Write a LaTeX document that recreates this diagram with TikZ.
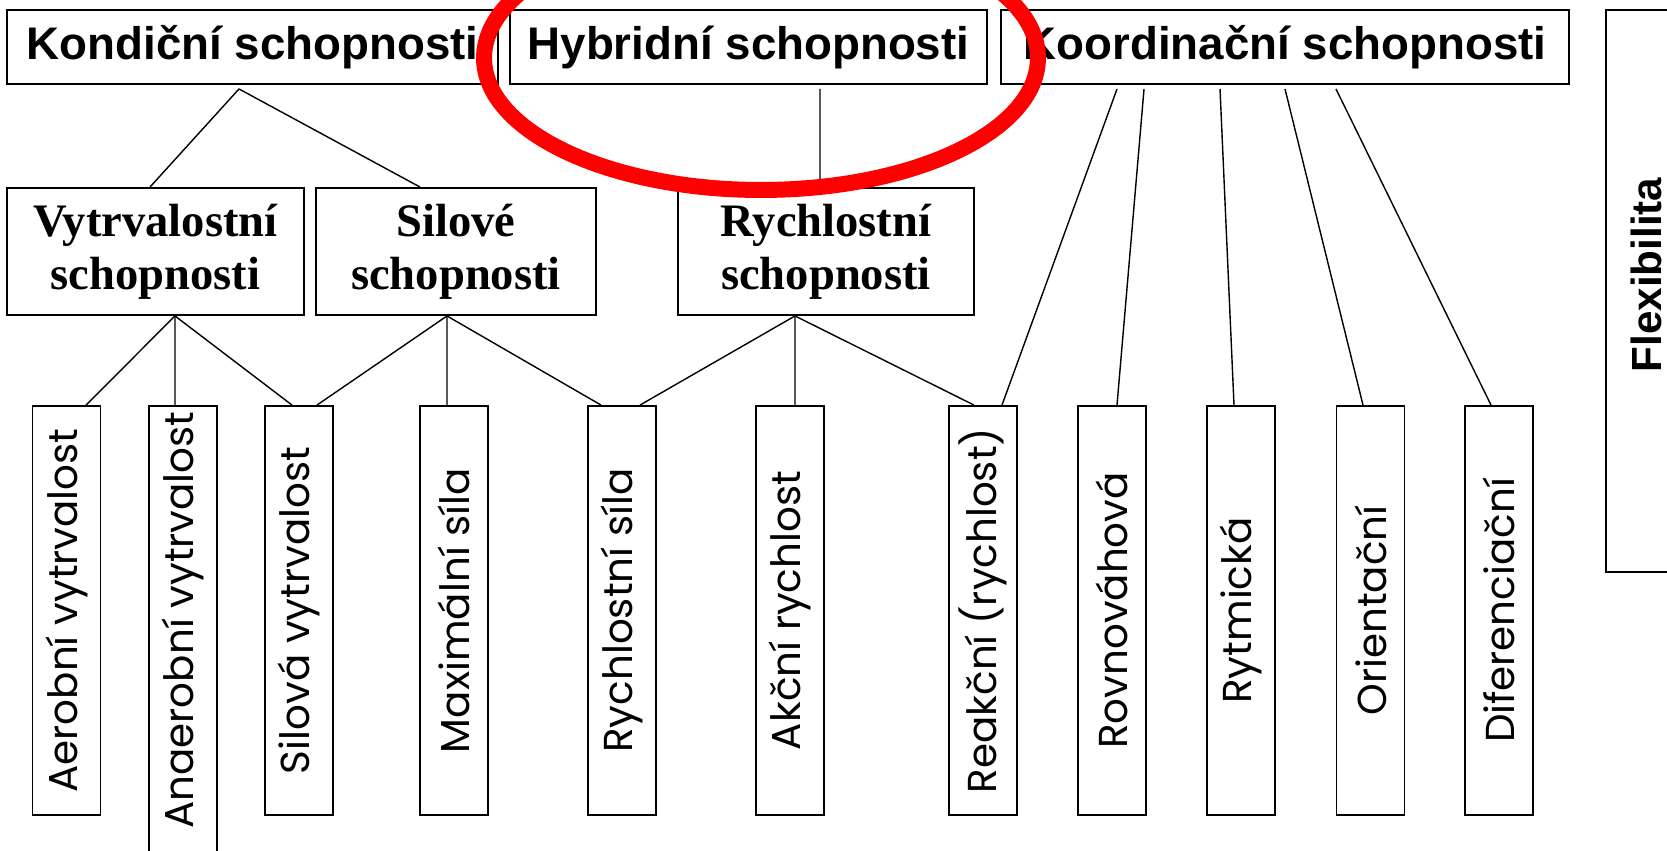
\documentclass[tikz,border=0pt]{standalone}
\usepackage{fontspec}
\newfontfamily\headfont{Liberation Sans}
\newfontfamily\groupfont{Liberation Serif}
\newfontfamily\leaffont{Poppins}
\tikzset{
  head/.style={draw, line width=1.1pt, inner sep=0pt, minimum height=1.48cm,
    font=\headfont\bfseries\fontsize{26}{30}\selectfont},
  group/.style={draw, line width=1.1pt, inner sep=0pt, minimum height=2.54cm, align=center,
    font=\groupfont\bfseries\fontsize{26.5}{30}\selectfont},
  leafbox/.style={draw, line width=1.1pt, inner sep=0pt, minimum width=1.36cm,
    font=\leaffont\fontsize{23}{26}\selectfont},
}
\newcommand{\headbox}[4]{\node[head, minimum width=0.02cm*#4] (#1) at (#2,47) {#3};}
\newcommand{\groupbox}[4]{\node[group, minimum width=0.02cm*#4] (#1) at (#2,251.5) {#3};}
\newcommand{\leaf}[3]{\node[leafbox, minimum height=8.18cm] (#1) at (#2,610.5) {\rotatebox{90}{#3}};}
\newcommand{\link}[2]{\draw[line width=0.8pt] (#1) -- (#2);}

\begin{document}
\begin{tikzpicture}[x=0.02cm,y=-0.02cm]
    \useasboundingbox (0,0) rectangle (1667,851);
    \headbox{kond}{252.5}{Kondiční schopnosti}{491}
    \headbox{hybr}{748.5}{Hybridní schopnosti}{477}
    \headbox{koord}{1285}{Koordinační schopnosti}{568}
    \node[draw, line width=1.1pt, inner sep=0pt, minimum width=1.6cm, minimum height=11.24cm,
      font=\headfont\bfseries\fontsize{24}{28}\selectfont] (flex) at (1646,291)
      {\rotatebox{90}{\hspace*{0.64cm}Flexibilita}};

    \groupbox{vytr}{155.5}{Vytrvalostní\\schopnosti}{297}
    \groupbox{silo}{456}{Silové\\schopnosti}{280}
    \groupbox{rych}{826}{Rychlostní\\schopnosti}{296}

    \leaf{aer}{66.5}{Aerobní vytrvalost}
    \node[leafbox, minimum height=9.48cm] (anaer) at (183,643)
      {\rotatebox{90}{\hspace*{0.92cm}Anaerobní vytrvalost}};
    \leaf{silvyt}{299}{Silová vytrvalost}
    \leaf{max}{454}{Maximální síla}
    \leaf{rsila}{622}{Rychlostní síla}
    \leaf{akc}{790}{Akční rychlost}
    \leaf{reak}{983}{Reakční (rychlost)}
    \leaf{rovn}{1112}{Rovnováhová}
    \leaf{rytm}{1241}{Rytmická}
    \leaf{orie}{1370.5}{Orientační}
    \leaf{dife}{1499}{Diferenciační}

    \coordinate (kondJ) at ([xshift=-0.27cm,yshift=-0.08cm]kond.south);
    \coordinate (hybrJ) at ([xshift=1.43cm,yshift=-0.08cm]hybr.south);
    \coordinate (vytrJ) at ([xshift=0.39cm]vytr.south);
    \coordinate (siloJ) at ([xshift=-0.18cm]silo.south);
    \coordinate (rychJ) at ([xshift=-0.62cm]rych.south);
    \link{kondJ}{[xshift=-0.11cm]vytr.north}\link{kondJ}{[xshift=-0.72cm]silo.north}
    \link{hybrJ}{[xshift=-0.12cm]rych.north}
    \link{vytrJ}{[xshift=0.39cm]aer.north}\link{vytrJ}{[xshift=-0.16cm]anaer.north}
    \link{vytrJ}{[xshift=-0.14cm]silvyt.north}
    \link{siloJ}{[xshift=0.36cm]silvyt.north}\link{siloJ}{[xshift=-0.14cm]max.north}
    \link{siloJ}{[xshift=-0.42cm]rsila.north}
    \link{rychJ}{[xshift=0.36cm]rsila.north}\link{rychJ}{[xshift=0.1cm]akc.north}
    \link{rychJ}{[xshift=-0.18cm]reak.north}
    \link{[xshift=-3.36cm,yshift=-0.08cm]koord.south}{[xshift=0.38cm]reak.north}
    \link{[xshift=-2.82cm,yshift=-0.08cm]koord.south}{[xshift=0.1cm]rovn.north}
    \link{[xshift=-1.3cm,yshift=-0.08cm]koord.south}{[xshift=-0.14cm]rytm.north}
    \link{[yshift=-0.08cm]koord.south}{[xshift=-0.15cm]orie.north}
    \link{[xshift=1.02cm,yshift=-0.08cm]koord.south}{[xshift=-0.16cm]dife.north}

    \draw[red, line width=0.32cm] (761,58) ellipse [x radius=5.54cm, y radius=2.64cm];
\end{tikzpicture}
\end{document}
